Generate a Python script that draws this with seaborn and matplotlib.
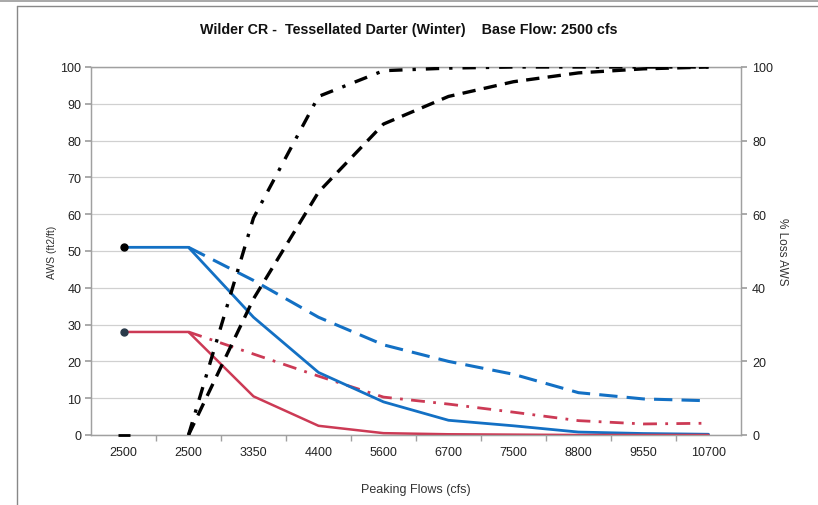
import numpy as np
import pandas as pd
import matplotlib
matplotlib.use("Agg")
import matplotlib.pyplot as plt
from matplotlib.lines import Line2D
import seaborn as sns

sns.set_theme(style="white")
plt.rcParams['font.family'] = ['Liberation Sans', 'DejaVu Sans']

# ---- data ----
flows = ["2500", "2500", "3350", "4400", "5600", "6700", "7500", "8800", "9550", "10700"]
aws_adult_base = [51, 51, 32, 17, 9, 4, 2.5, 0.8, 0.4, 0.2]
aws_adult_peak = [np.nan, 51, 42, 32, 24.5, 20, 16.5, 11.5, 9.8, 9.3]
aws_juv_base = [28, 28, 10.5, 2.5, 0.5, 0.2, 0.1, 0, 0, 0]
aws_juv_peak = [np.nan, 28, 22, 16, 10.3, 8.4, 6.2, 3.9, 3.0, 3.2]
loss_juv = [np.nan, 0, 59, 92, 99, 99.7, 100, 100, 100, 100]
loss_adult = [0, 0, 37, 66, 84.5, 92, 96, 98.4, 99.5, 100]

idx = np.arange(len(flows))
df = pd.DataFrame({
    "idx": idx,
    "aws_adult_base": aws_adult_base,
    "aws_adult_peak": aws_adult_peak,
    "aws_juv_base": aws_juv_base,
    "aws_juv_peak": aws_juv_peak,
    "loss_juv": loss_juv,
    "loss_adult": loss_adult,
})

BLUE = "#1370C4"
RED = "#CC3A55"
GRID = "#d0d0d0"
AX = "#a0a0a0"

fig = plt.figure(figsize=(8.18, 5.06), dpi=100)
ax = fig.add_axes([91/818, 1-436/506, (741-91)/818, (436-68)/506])
ax2 = ax.twinx()

# left axis AWS lines
sns.lineplot(data=df, x="idx", y="aws_adult_peak", ax=ax, color=BLUE, lw=2.2,
             linestyle=(0, (6, 3)), zorder=3)
sns.lineplot(data=df, x="idx", y="aws_juv_peak", ax=ax, color=RED, lw=2.0,
             linestyle=(0, (5, 3, 1, 3)), zorder=3)
sns.lineplot(data=df, x="idx", y="aws_adult_base", ax=ax, color=BLUE, lw=2.0, zorder=4)
sns.lineplot(data=df, x="idx", y="aws_juv_base", ax=ax, color=RED, lw=1.8, zorder=4)
first = df[df.idx == 0]
ax.plot(first["idx"], first["aws_adult_base"], "o", color="black", ms=5, zorder=5)
ax.plot(first["idx"], first["aws_juv_base"], "o", color="#2a3a4a", ms=5, zorder=5)

# right axis % loss
sns.lineplot(data=df, x="idx", y="loss_juv", ax=ax2, color="black", lw=2.4,
             linestyle=(0, (4, 3, 1, 3)), zorder=3)
sns.lineplot(data=df[df.idx >= 1], x="idx", y="loss_adult", ax=ax2, color="black", lw=2.4,
             linestyle=(0, (4, 2.5)), zorder=3)
ax2.plot(first["idx"], first["loss_adult"], "_", color="black", ms=8, mew=2, zorder=5, clip_on=False)

for a in (ax, ax2):
    a.set_xlim(-0.5, len(flows) - 0.5)
    a.set_ylim(0, 100)
    for s in a.spines.values():
        s.set_color(AX)
        s.set_linewidth(0.9)

ax.set_yticks(np.arange(0, 101, 10))
ax2.set_yticks(np.arange(0, 101, 20))
ax.yaxis.grid(True, color=GRID, lw=0.9)
ax.set_axisbelow(True)
ax.set_xticks(idx)
ax.set_xticklabels(flows)
ax.set_xticks(np.arange(0.5, len(flows) - 1, 1), minor=True)
ax.tick_params(axis="x", which="major", length=0, labelsize=9, pad=8, colors="#222222")
ax.tick_params(axis="x", which="minor", length=4, color=AX, direction="out", bottom=True)
ax.tick_params(axis="y", length=4, color=AX, direction="out", left=True, labelsize=9, colors="#222222", pad=3)
ax2.tick_params(axis="y", length=4, color=AX, direction="out", right=True, labelsize=9, colors="#222222", pad=4)

ax.set_xlabel("Peaking Flows (cfs)", fontsize=9, color="#333333", labelpad=18)
ax.set_ylabel("AWS (ft2/ft)", fontsize=7.5, color="#333333", labelpad=2)
ax2.set_ylabel("% Loss AWS", fontsize=8.5, color="#333333", rotation=270, labelpad=11)

fig.text(0.5, 1 - 30/506, "Wilder CR -  Tessellated Darter (Winter)    Base Flow: 2500 cfs",
         ha="center", va="center", fontsize=10.3, fontweight="bold", color="#111111")

# outer frame lines
fig.add_artist(Line2D([0, 1], [1 - 1.5/506, 1 - 1.5/506], color="#999999", lw=1.2))
fig.add_artist(Line2D([17/818, 1], [1 - 7/506, 1 - 7/506], color="#888888", lw=1.0))
fig.add_artist(Line2D([17/818, 17/818], [0, 1 - 7/506], color="#888888", lw=1.0))

fig.savefig("out.png", dpi=100)
